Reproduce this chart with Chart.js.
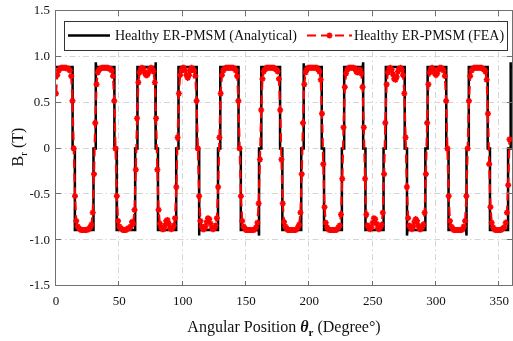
<!DOCTYPE html>
<html>
<head>
<meta charset="utf-8">
<script src="https://cdn.jsdelivr.net/npm/chart.js@4.4.1/dist/chart.umd.min.js"></script>
<style>
  html, body { margin: 0; padding: 0; background: #fff; }
  #wrap { width: 513px; height: 341px; }
</style>
</head>
<body>
<div id="wrap"><canvas id="BrChart" width="513" height="341"></canvas></div>
<script>
const xTicks = [0, 50, 100, 150, 200, 250, 300, 350];
const yTicks = [-1.5, -1, -0.5, 0, 0.5, 1, 1.5];

// FEA: one sample per degree, starting at 0
const feaStep = 1;
const feaBr = [
    0.60, 0.80, 0.85, 0.87, 0.88, 0.88, 0.88, 0.88, 0.88, 0.87,          // 0
    0.87, 0.85, 0.79, 0.52, 0.00, -0.52, -0.79, -0.85, -0.87, -0.88,     // 10
    -0.89, -0.89, -0.89, -0.89, -0.89, -0.88, -0.88, -0.86, -0.83, -0.70, // 20
    -0.28, 0.28, 0.70, 0.83, 0.86, 0.87, 0.88, 0.88, 0.88, 0.88,         // 30
    0.88, 0.88, 0.87, 0.87, 0.85, 0.79, 0.52, 0.00, -0.52, -0.79,        // 40
    -0.85, -0.87, -0.88, -0.89, -0.89, -0.89, -0.88, -0.87, -0.87, -0.85, // 50
    -0.80, -0.82, -0.67, -0.23, 0.33, 0.72, 0.83, 0.87, 0.88, 0.87,      // 60
    0.83, 0.80, 0.80, 0.83, 0.87, 0.88, 0.87, 0.84, 0.72, 0.33,          // 70
    -0.23, -0.67, -0.82, -0.86, -0.88, -0.88, -0.84, -0.79, -0.78, -0.82, // 80
    -0.87, -0.88, -0.87, -0.84, -0.76, -0.42, 0.12, 0.60, 0.80, 0.85,    // 90
    0.88, 0.88, 0.85, 0.80, 0.77, 0.80, 0.85, 0.88, 0.87, 0.85,          // 100
    0.79, 0.52, 0.00, -0.52, -0.79, -0.85, -0.88, -0.88, -0.85, -0.80,   // 110
    -0.76, -0.77, -0.82, -0.87, -0.88, -0.87, -0.84, -0.76, -0.42, 0.12, // 120
    0.60, 0.80, 0.85, 0.87, 0.88, 0.88, 0.88, 0.88, 0.88, 0.88,          // 130
    0.88, 0.87, 0.85, 0.79, 0.52, 0.00, -0.52, -0.79, -0.85, -0.87,      // 140
    -0.89, -0.89, -0.89, -0.89, -0.89, -0.89, -0.89, -0.88, -0.86, -0.81, // 150
    -0.60, -0.12, 0.42, 0.76, 0.84, 0.86, 0.88, 0.88, 0.88, 0.88,        // 160
    0.88, 0.88, 0.88, 0.87, 0.86, 0.84, 0.76, 0.42, -0.12, -0.60,        // 170
    -0.80, -0.85, -0.87, -0.89, -0.89, -0.89, -0.89, -0.89, -0.89, -0.89, // 180
    -0.88, -0.86, -0.83, -0.70, -0.28, 0.28, 0.70, 0.83, 0.86, 0.88,     // 190
    0.88, 0.88, 0.88, 0.88, 0.88, 0.88, 0.88, 0.86, 0.84, 0.75,          // 200
    0.38, -0.17, -0.64, -0.81, -0.86, -0.88, -0.89, -0.89, -0.89, -0.89, // 210
    -0.89, -0.89, -0.88, -0.86, -0.84, -0.72, -0.33, 0.23, 0.67, 0.82,   // 220
    0.86, 0.88, 0.88, 0.88, 0.88, 0.88, 0.87, 0.84, 0.83, 0.86,          // 230
    0.86, 0.82, 0.67, 0.23, -0.33, -0.72, -0.84, -0.87, -0.88, -0.86,    // 240
    -0.81, -0.76, -0.77, -0.82, -0.87, -0.88, -0.86, -0.83, -0.70, -0.28, // 250
    0.28, 0.70, 0.83, 0.87, 0.88, 0.86, 0.81, 0.76, 0.75, 0.78,          // 260
    0.84, 0.87, 0.88, 0.86, 0.80, 0.60, 0.12, -0.42, -0.76, -0.84,       // 270
    -0.87, -0.88, -0.85, -0.80, -0.77, -0.79, -0.84, -0.88, -0.88, -0.86, // 280
    -0.83, -0.70, -0.28, 0.28, 0.70, 0.83, 0.87, 0.88, 0.86, 0.82,       // 290
    0.80, 0.82, 0.86, 0.88, 0.88, 0.87, 0.85, 0.79, 0.52, 0.00,          // 300
    -0.52, -0.79, -0.85, -0.87, -0.89, -0.89, -0.89, -0.89, -0.89, -0.89, // 310
    -0.89, -0.88, -0.85, -0.79, -0.52, 0.00, 0.52, 0.79, 0.85, 0.87,     // 320
    0.88, 0.88, 0.88, 0.88, 0.88, 0.88, 0.88, 0.87, 0.86, 0.84,          // 330
    0.75, 0.38, -0.17, -0.64, -0.81, -0.86, -0.88, -0.89, -0.89, -0.89,  // 340
    -0.89, -0.89, -0.88, -0.87, -0.86, -0.81, -0.70, -0.40, 0.10         // 350
];

// Analytical: corner points of the stepped wave
const anaDeg = [
    0,
    13.1, 13.1, 14.9, 14.9,
    29.6, 29.6, 31.4, 31.4, 31.7,
    46.1, 46.1, 47.9, 47.9,
    62.5, 62.5, 64.3, 64.3,
    78.4, 78.7, 78.7, 80.5, 80.5,
    94.9, 94.9, 96.7, 96.7,
    111.1, 111.1, 112.9, 112.9, 113.2,
    127.9, 127.9, 129.7, 129.7,
    144.1, 144.1, 145.9, 145.9,
    160.0, 160.3, 160.3, 162.1, 162.1,
    176.9, 176.9, 178.7, 178.7,
    193.6, 193.6, 195.4, 195.4, 195.7,
    209.8, 209.8, 211.6, 211.6,
    225.7, 225.7, 227.5, 227.5,
    242.2, 242.5, 242.5, 244.3, 244.3,
    258.6, 258.6, 260.4, 260.4,
    275.3, 275.3, 277.1, 277.1, 277.4,
    291.6, 291.6, 293.4, 293.4,
    308.1, 308.1, 309.9, 309.9,
    323.8, 324.1, 324.1, 325.9, 325.9,
    340.8, 340.8, 342.6, 342.6,
    356.9, 356.9, 358.7, 358.7, 359.2, 360
];
const anaBr = [
    0.89,
    0.89, 0, 0, -0.89,
    -0.89, 0, 0, 0.94, 0.89,
    0.89, 0, 0, -0.89,
    -0.89, 0, 0, 0.89,
    0.89, 0.94, 0, 0, -0.89,
    -0.89, 0, 0, 0.89,
    0.89, 0, 0, -0.95, -0.89,
    -0.89, 0, 0, 0.89,
    0.89, 0, 0, -0.89,
    -0.89, -0.95, 0, 0, 0.89,
    0.89, 0, 0, -0.89,
    -0.89, 0, 0, 0.93, 0.89,
    0.89, 0, 0, -0.89,
    -0.89, 0, 0, 0.89,
    0.89, 0.94, 0, 0, -0.89,
    -0.89, 0, 0, 0.89,
    0.89, 0, 0, -0.95, -0.89,
    -0.89, 0, 0, 0.89,
    0.89, 0, 0, -0.89,
    -0.89, -0.95, 0, 0, 0.89,
    0.89, 0, 0, -0.89,
    -0.89, 0, 0, 0.94, 0.89, 0.89
];

const seriesNames = ['Healthy ER-PMSM (Analytical)', 'Healthy ER-PMSM (FEA)'];
const SERIF = '"Liberation Serif", "DejaVu Serif", serif';

const feaPoints = feaBr.map((v, i) => ({x: i * feaStep, y: v}));
const anaPoints = anaDeg.map((d, i) => ({x: d, y: anaBr[i]}));

function drawRich(ctx, parts, x, y) {
    let w = 0;
    parts.forEach(p => { ctx.font = p.font; w += ctx.measureText(p.t).width; });
    let cx = x - w / 2;
    parts.forEach(p => {
        ctx.font = p.font;
        ctx.fillText(p.t, cx, y + (p.dy || 0));
        cx += ctx.measureText(p.t).width;
    });
}

// keep the plot box fixed, labels are allowed to hang over
function noPadding(s) {
    s.paddingLeft = 0;
    s.paddingRight = 0;
    s.paddingTop = 0;
    s.paddingBottom = 0;
}

const framePlugin = {
    id: 'frame',
    beforeDatasetsDraw(chart) {
        const {ctx, chartArea: a, scales: {x, y}} = chart;
        ctx.save();
        ctx.strokeStyle = '#d6d6d6';
        ctx.lineWidth = 1;
        ctx.setLineDash([6, 3, 1.5, 3]);
        ctx.beginPath();
        xTicks.forEach(v => {
            if (v <= 0 || v >= 360) return;
            const px = Math.round(x.getPixelForValue(v)) - 0.5;
            ctx.moveTo(px, a.top);
            ctx.lineTo(px, a.bottom);
        });
        yTicks.forEach(v => {
            if (v <= -1.5 || v >= 1.5) return;
            const py = Math.round(y.getPixelForValue(v)) - 0.5;
            ctx.moveTo(a.left, py);
            ctx.lineTo(a.right, py);
        });
        ctx.stroke();
        ctx.restore();
    },
    afterDatasetsDraw(chart) {
        const {ctx, chartArea: a, scales: {x, y}} = chart;
        ctx.save();
        ctx.strokeStyle = '#707070';
        ctx.lineWidth = 1;
        ctx.setLineDash([]);
        ctx.strokeRect(a.left - 0.5, a.top - 0.5, a.right - a.left + 1, a.bottom - a.top);
        ctx.beginPath();
        const tl = 5;
        xTicks.forEach(v => {
            const px = Math.round(x.getPixelForValue(v)) - 0.5;
            ctx.moveTo(px, a.bottom); ctx.lineTo(px, a.bottom - tl);
            ctx.moveTo(px, a.top); ctx.lineTo(px, a.top + tl);
        });
        yTicks.forEach(v => {
            const py = Math.round(y.getPixelForValue(v)) - 0.5;
            ctx.moveTo(a.left, py); ctx.lineTo(a.left + tl, py);
            ctx.moveTo(a.right, py); ctx.lineTo(a.right - tl, py);
        });
        ctx.stroke();
        ctx.restore();
    },
    afterDraw(chart) {
        const {ctx, chartArea: a} = chart;
        ctx.save();
        ctx.textBaseline = 'alphabetic';

        // legend
        ctx.fillStyle = '#fff';
        ctx.fillRect(64.5, 21.5, 443, 29);
        ctx.strokeStyle = '#333';
        ctx.lineWidth = 1;
        ctx.strokeRect(64.5, 21.5, 443, 29);
        ctx.strokeStyle = '#000';
        ctx.lineWidth = 2.5;
        ctx.beginPath(); ctx.moveTo(68, 35.5); ctx.lineTo(110, 35.5); ctx.stroke();
        ctx.strokeStyle = '#ff0000';
        ctx.lineWidth = 2.2;
        ctx.setLineDash([9, 5]);
        ctx.beginPath(); ctx.moveTo(307, 35.5); ctx.lineTo(352, 35.5); ctx.stroke();
        ctx.setLineDash([]);
        ctx.lineWidth = 1.6;
        ctx.beginPath();
        ctx.moveTo(326.5, 35.5); ctx.lineTo(332.5, 35.5);
        ctx.moveTo(329.5, 32.5); ctx.lineTo(329.5, 38.5);
        ctx.moveTo(327.4, 33.4); ctx.lineTo(331.6, 37.6);
        ctx.moveTo(331.6, 33.4); ctx.lineTo(327.4, 37.6);
        ctx.stroke();
        ctx.fillStyle = '#111';
        ctx.font = '14px ' + SERIF;
        ctx.textAlign = 'left';
        ctx.fillText(seriesNames[0], 115, 40);
        ctx.fillText(seriesNames[1], 354, 40);

        // axis titles
        const cx = (a.left + a.right) / 2;
        drawRich(ctx, [
            {t: 'Angular Position ', font: '16px ' + SERIF},
            {t: '\u03b8', font: 'italic bold 16px ' + SERIF},
            {t: 'r', font: 'bold 11px ' + SERIF, dy: 4},
            {t: ' (Degree\u00b0)', font: '16px ' + SERIF}
        ], cx, 332);

        ctx.translate(17, 147);
        ctx.rotate(-Math.PI / 2);
        drawRich(ctx, [
            {t: 'B', font: '16px ' + SERIF},
            {t: 'r', font: '11px ' + SERIF, dy: 4},
            {t: ' (T)', font: '16px ' + SERIF}
        ], 0, 5.5);
        ctx.restore();
    }
};

new Chart(document.getElementById('BrChart'), {
    type: 'scatter',
    data: {
        datasets: [
            {
                label: seriesNames[0],
                data: anaPoints,
                showLine: true,
                borderColor: '#000',
                borderWidth: 2.5,
                pointRadius: 0,
                tension: 0,
                order: 2
            },
            {
                label: seriesNames[1],
                data: feaPoints,
                showLine: true,
                borderColor: '#ff0000',
                backgroundColor: '#ff0000',
                borderWidth: 2.2,
                borderDash: [9, 5],
                pointStyle: 'star',
                pointRadius: 3,
                pointBorderWidth: 1.6,
                pointBorderColor: '#ff0000',
                tension: 0,
                order: 1
            }
        ]
    },
    options: {
        responsive: false,
        animation: false,
        devicePixelRatio: 1,
        layout: {autoPadding: false, padding: {top: 11, right: 1, left: 0, bottom: 0}},
        scales: {
            x: {
                type: 'linear',
                min: 0,
                max: 360,
                afterBuildTicks: s => { s.ticks = xTicks.map(v => ({value: v})); },
                afterFit: s => { s.height = 55; noPadding(s); },
                grid: {display: false, drawTicks: false},
                border: {display: false},
                ticks: {
                    font: {family: SERIF, size: 13},
                    color: '#111',
                    padding: 8,
                    maxRotation: 0,
                    autoSkip: false
                }
            },
            y: {
                type: 'linear',
                min: -1.5,
                max: 1.5,
                afterBuildTicks: s => { s.ticks = yTicks.map(v => ({value: v})); },
                afterFit: s => { s.width = 56; noPadding(s); },
                grid: {display: false, drawTicks: false},
                border: {display: false},
                ticks: {
                    font: {family: SERIF, size: 13},
                    color: '#111',
                    padding: 6
                }
            }
        },
        plugins: {
            legend: {display: false},
            tooltip: {enabled: false}
        }
    },
    plugins: [framePlugin]
});
</script>
</body>
</html>
